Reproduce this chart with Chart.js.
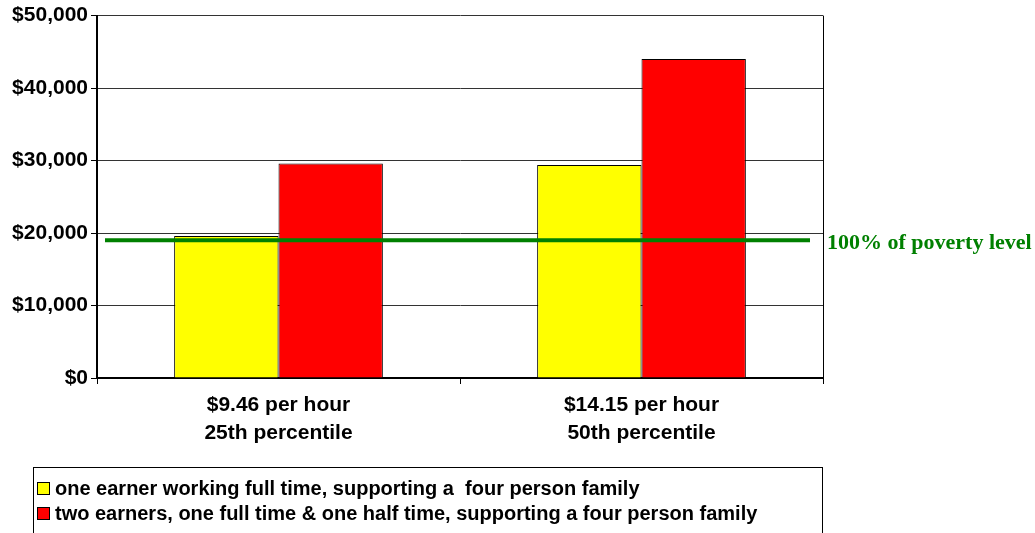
<!DOCTYPE html>
<html>
<head>
<meta charset="utf-8">
<script src="https://cdn.jsdelivr.net/npm/chart.js@4/dist/chart.umd.min.js"></script>
<style>
  html, body { margin: 0; padding: 0; background: #fff; }
  #wrap { position: relative; width: 1035px; height: 533px; }
  #legend {
    position: absolute; left: 33px; top: 467px; width: 790px; height: 80px;
    border: 1px solid #000; box-sizing: border-box;
    font: bold 20px "Liberation Sans", Arial, sans-serif; color: #000;
    padding: 8px 0 0 3px;
  }
  #legend div { height: 25px; line-height: 25px; white-space: pre; }
  #legend span {
    display: inline-block; width: 11px; height: 11px; border: 1px solid #000;
    margin-right: 5px; vertical-align: 0px;
  }
</style>
</head>
<body>
<div id="wrap">
  <canvas id="c" width="1035" height="533"></canvas>
  <div id="legend"></div>
</div>
<script>
// categories and values
const categories = [['$9.46 per hour', '25th percentile'], ['$14.15 per hour', '50th percentile']];
const oneEarner = [19600, 29400];
const twoEarners = [29600, 44000];
const povertyLevel = 19000;
const seriesNames = [
  'one earner working full time, supporting a  four person family',
  'two earners, one full time & one half time, supporting a four person family'
];
const seriesColors = ['#ffff00', '#ff0000'];
const yTicks = [0, 10000, 20000, 30000, 40000, 50000];

// poverty line + plot border
const povertyPlugin = {
  id: 'poverty',
  afterDatasetsDraw(chart) {
    const { ctx, chartArea: a, scales } = chart;
    const y = scales.y.getPixelForValue(povertyLevel);
    ctx.save();
    // right border of plot area
    ctx.strokeStyle = '#000';
    ctx.lineWidth = 1;
    ctx.beginPath();
    ctx.moveTo(a.right + 0.5, a.top);
    ctx.lineTo(a.right + 0.5, a.bottom + 6);
    ctx.stroke();

    ctx.strokeStyle = '#008000';
    ctx.lineWidth = 4;
    ctx.beginPath();
    ctx.moveTo(a.left + 8, y);
    ctx.lineTo(a.right - 13, y);
    ctx.stroke();

    ctx.fillStyle = '#008000';
    ctx.font = 'bold 22px "Liberation Serif", "Times New Roman", serif';
    ctx.textBaseline = 'middle';
    ctx.fillText('100% of poverty level', a.right + 4, y + 3);
    ctx.restore();
  }
};

const chart = new Chart(document.getElementById('c'), {
  type: 'bar',
  data: {
    labels: categories,
    datasets: [
      { label: seriesNames[0], data: oneEarner, backgroundColor: seriesColors[0], borderColor: '#000', borderWidth: 1 },
      { label: seriesNames[1], data: twoEarners, backgroundColor: seriesColors[1], borderColor: '#000', borderWidth: 1 }
    ]
  },
  options: {
    responsive: false,
    animation: false,
    layout: { padding: { top: 15, right: 212, left: 0, bottom: 0 } },
    categoryPercentage: 0.575,
    barPercentage: 1,
    plugins: { legend: { display: false }, tooltip: { enabled: false } },
    scales: {
      x: {
        afterFit(s) { s.height = 155; },
        grid: { offset: true, drawOnChartArea: false, drawTicks: true, tickLength: 6, color: '#000' },
        border: { color: '#000', width: 2 },
        ticks: {
          color: '#000', padding: 7,
          font: { family: '"Liberation Sans", Arial, sans-serif', size: 21, weight: 'bold', lineHeight: 1.33 }
        }
      },
      y: {
        min: 0, max: 50000,
        afterFit(s) { s.width = 97; },
        afterBuildTicks(s) { s.ticks = yTicks.map(v => ({ value: v })); },
        grid: { color: '#333', lineWidth: 1, tickLength: 6, tickColor: '#000' },
        border: { color: '#000', width: 2 },
        ticks: {
          color: '#000', padding: 3,
          font: { family: '"Liberation Sans", Arial, sans-serif', size: 21, weight: 'bold' },
          callback: v => '$' + v.toLocaleString('en-US')
        }
      }
    }
  },
  plugins: [povertyPlugin]
});

// legend in a box under the chart
const legend = document.getElementById('legend');
chart.data.datasets.forEach(ds => {
  const row = document.createElement('div');
  const sw = document.createElement('span');
  sw.style.background = ds.backgroundColor;
  row.appendChild(sw);
  row.appendChild(document.createTextNode(ds.label));
  legend.appendChild(row);
});
</script>
</body>
</html>
